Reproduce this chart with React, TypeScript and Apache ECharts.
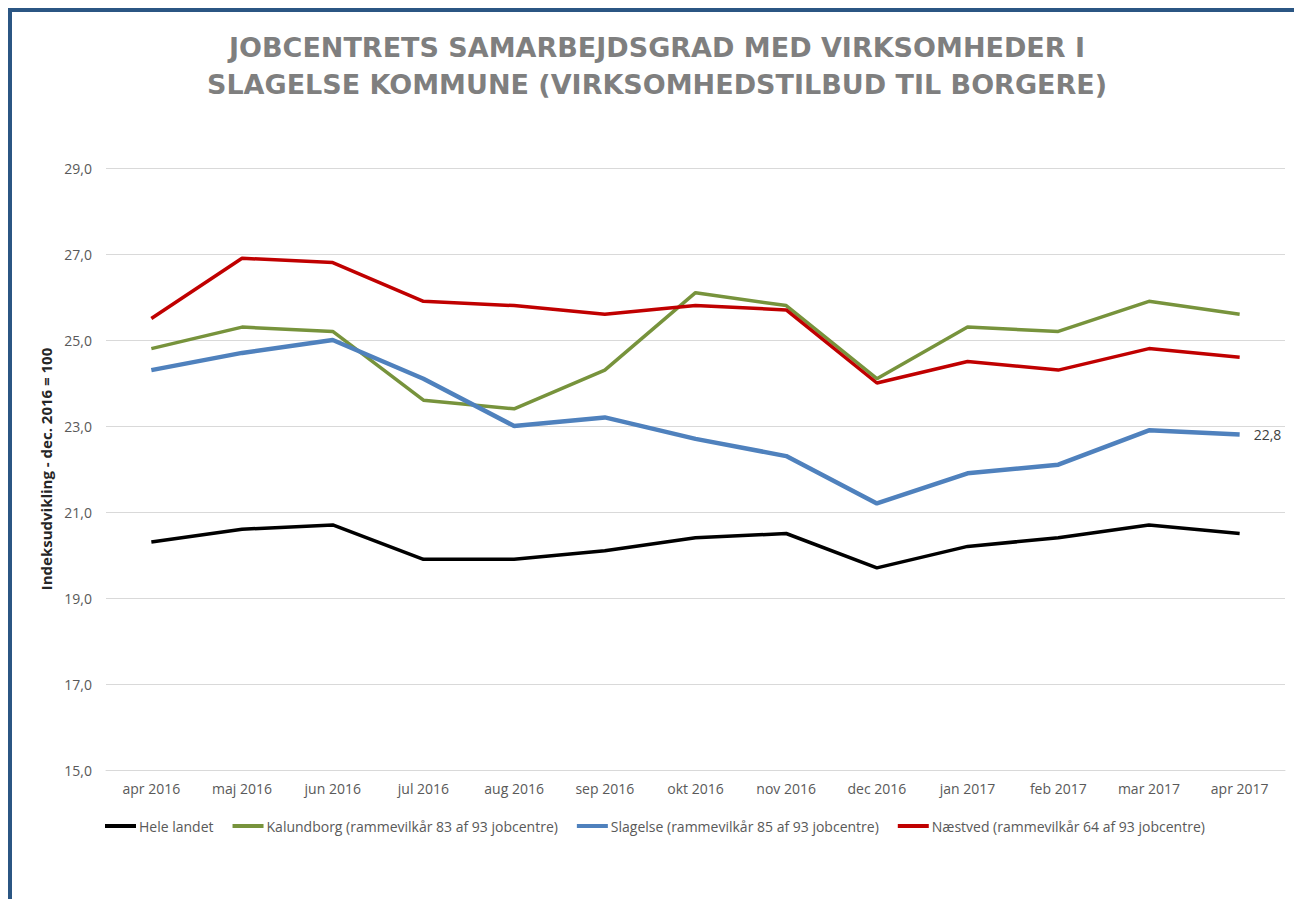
import React, { useEffect, useRef } from "react";
import * as echarts from "echarts";

const categories = ["apr 2016", "maj 2016", "jun 2016", "jul 2016", "aug 2016", "sep 2016", "okt 2016", "nov 2016", "dec 2016", "jan 2017", "feb 2017", "mar 2017", "apr 2017"];
const heleLandet = [20.3, 20.6, 20.7, 19.9, 19.9, 20.1, 20.4, 20.5, 19.7, 20.2, 20.4, 20.7, 20.5];
const kalundborg = [24.8, 25.3, 25.2, 23.6, 23.4, 24.3, 26.1, 25.8, 24.1, 25.3, 25.2, 25.9, 25.6];
const slagelse = [24.3, 24.7, 25.0, 24.1, 23.0, 23.2, 22.7, 22.3, 21.2, 21.9, 22.1, 22.9, 22.8];
const naestved = [25.5, 26.9, 26.8, 25.9, 25.8, 25.6, 25.8, 25.7, 24.0, 24.5, 24.3, 24.8, 24.6];
const seriesNames = [
  "Hele landet",
  "Kalundborg (rammevilkår 83 af 93 jobcentre)",
  "Slagelse (rammevilkår 85 af 93 jobcentre)",
  "Næstved (rammevilkår 64 af 93 jobcentre)",
];
const titleLines = ["JOBCENTRETS SAMARBEJDSGRAD MED VIRKSOMHEDER I", "SLAGELSE KOMMUNE (VIRKSOMHEDSTILBUD TIL BORGERE)"];
const yAxisName = "Indeksudvikling - dec. 2016 = 100";

const fmt = (v: number) => v.toFixed(1).replace(".", ",");

export default function App() {
  const ref = useRef<HTMLDivElement>(null);
  useEffect(() => {
    if (!ref.current) return;
    const chart = echarts.init(ref.current, undefined, { renderer: "svg" });
    const font = "'Open Sans', sans-serif";
    chart.setOption({
      animation: false,
      textStyle: { fontFamily: font },
      title: {
        text: titleLines.join("\n"),
        left: "center",
        top: 12,
        textStyle: {
          fontFamily: "'DejaVu Sans', sans-serif",
          fontWeight: "bold",
          fontSize: 27,
          color: "#7f7f7f",
          lineHeight: 37,
        },
      },
      grid: { left: 94, right: 17, top: 156, bottom: 129 },
      legend: {
        left: 88,
        top: 802,
        icon: "rect",
        itemWidth: 31,
        itemHeight: 4,
        itemGap: 19,
        textStyle: { fontFamily: font, fontSize: 14, color: "#595959", padding: [0, 0, 0, -2] },
        data: seriesNames,
      },
      xAxis: {
        type: "category",
        data: categories,
        boundaryGap: true,
        axisLine: { show: true, lineStyle: { color: "#d9d9d9", width: 1 } },
        axisTick: { show: false },
        axisLabel: { color: "#595959", fontSize: 14, margin: 11, fontFamily: font, interval: 0 },
      },
      yAxis: {
        type: "value",
        min: 15,
        max: 29,
        interval: 2,
        name: yAxisName,
        nameLocation: "middle",
        nameRotate: 90,
        nameGap: 48,
        nameTextStyle: { fontFamily: font, fontWeight: "bold", fontSize: 15, color: "#262626" },
        axisLine: { show: false },
        axisTick: { show: false },
        axisLabel: { color: "#595959", fontSize: 14, margin: 14, formatter: fmt, fontFamily: font },
        splitLine: { lineStyle: { color: "#d9d9d9", width: 1 } },
      },
      series: [
        { name: seriesNames[0], type: "line", data: heleLandet, color: "#000000", symbol: "none", lineStyle: { width: 3.5, color: "#000000" } },
        { name: seriesNames[1], type: "line", data: kalundborg, color: "#77933C", symbol: "none", lineStyle: { width: 3.5, color: "#77933C" } },
        {
          name: seriesNames[2],
          type: "line",
          color: "#4F81BD",
          symbol: "none",
          lineStyle: { width: 4.5, color: "#4F81BD" },
          data: slagelse,
          endLabel: {
            show: true,
            distance: 14,
            formatter: (p: any) => fmt(p.value),
            color: "#404040",
            fontSize: 14,
            fontFamily: font,
          },
        },
        { name: seriesNames[3], type: "line", data: naestved, color: "#C00000", symbol: "none", lineStyle: { width: 3.5, color: "#C00000" } },
      ],
    });
    return () => chart.dispose();
  }, []);
  return (
    <div style={{ width: 1294, height: 891, borderTop: "4px solid #2B5683", borderLeft: "4px solid #2B5683", boxSizing: "border-box", overflow: "hidden" }}>
      <div ref={ref} style={{ width: 1290, height: 887 }} />
    </div>
  );
}
